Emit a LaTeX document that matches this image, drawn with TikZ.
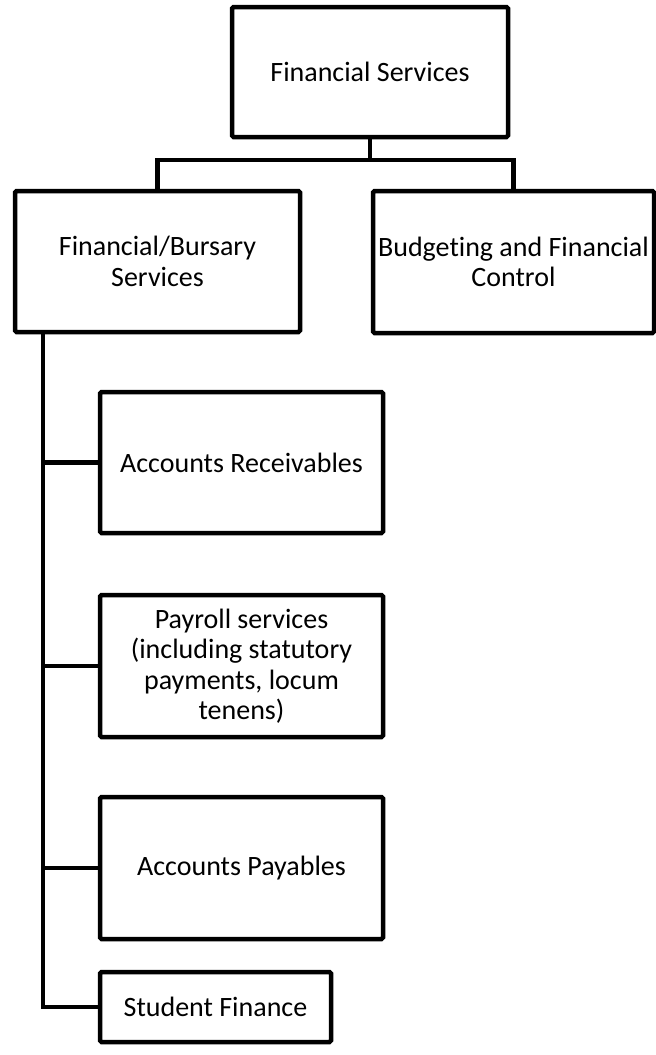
\documentclass[tikz,border=0pt]{standalone}
\usepackage{fontspec}
\setmainfont{Carlito}[Ligatures=NoCommon]
\begin{document}
\begin{tikzpicture}[x=1pt,y=-1pt,
  box/.style={draw=black,line width=4.5pt,rounded corners=1.5pt,inner sep=0pt,align=center,
    font=\fontsize{28}{30.5}\selectfont},
  conn/.style={draw=black,line width=4.5pt}]
\useasboundingbox (0,0) rectangle (656,1055);
\node[box,minimum width=276pt,minimum height=130pt] (fs) at (370,72) {Financial Services};
\node[box,minimum width=285pt,minimum height=141pt] (fb) at (157.5,261.5) {Financial/Bursary\\Services};
\node[box,minimum width=281pt,minimum height=142pt] (bfc) at (513.5,262) {Budgeting and Financial\\Control};
\node[box,minimum width=283pt,minimum height=141pt] (ar) at (241.5,462.5) {Accounts Receivables};
\node[box,minimum width=283pt,minimum height=142pt] (pr) at (241.5,666) {Payroll services\\(including statutory\\payments, locum\\tenens)};
\node[box,minimum width=283pt,minimum height=142pt] (ap) at (241.5,868) {Accounts Payables};
\node[box,minimum width=231pt,minimum height=70pt] (sf) at (215.5,1007) {Student Finance};
\coordinate (bus) at (370,160);
\coordinate (ttop) at (43,332);
\coordinate (tbot) at (43,1007);
\draw[conn] (fs.south) -- (bus);
\draw[conn] (fb.north) |- (bus) -| (bfc.north);
\draw[conn] (ttop) -- (tbot) -- (sf.west);
\draw[conn] (ar.west) -- (ar.west -| ttop);
\draw[conn] (pr.west) -- (pr.west -| ttop);
\draw[conn] (ap.west) -- (ap.west -| ttop);
\end{tikzpicture}
\end{document}
